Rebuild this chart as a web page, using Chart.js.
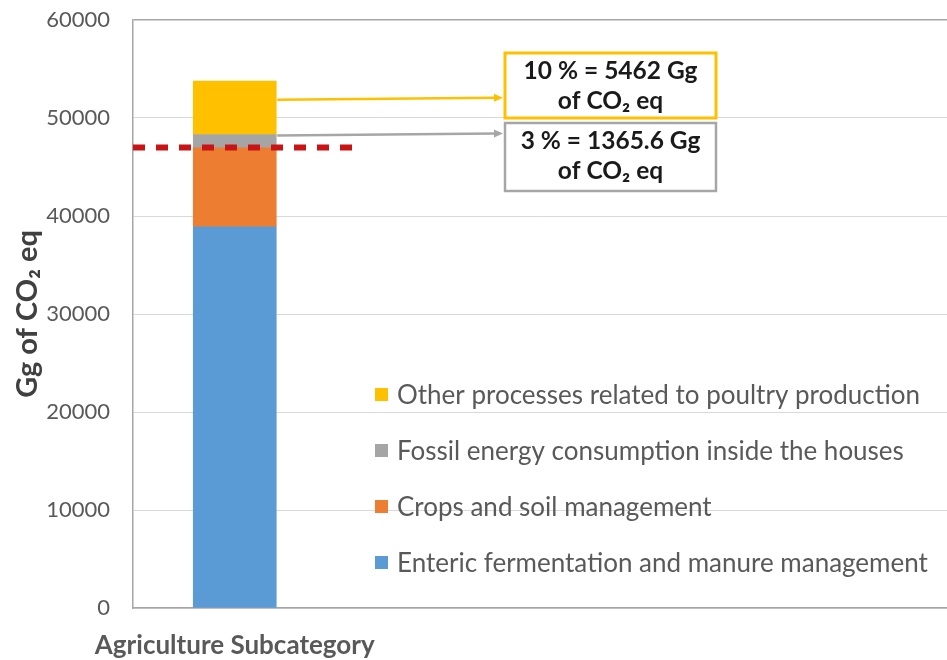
<!DOCTYPE html>
<html>
<head>
<meta charset="utf-8">
<script src="https://cdn.jsdelivr.net/npm/chart.js@4.4.1/dist/chart.umd.min.js"></script>
<style>
  html, body { margin: 0; padding: 0; background: #fff; }
  #wrap { width: 947px; height: 660px; position: relative; }
</style>
</head>
<body>
<div id="wrap"><canvas id="chart"></canvas></div>
<script>
// one category, placed near the left of a wide plot as in the original
const categories = ['Agriculture Subcategory'];
const categoryPositions = [0.125];   // position on the 0..1 horizontal scale
const seriesNames = [
    'Enteric fermentation and manure management',
    'Crops and soil management',
    'Fossil energy consumption inside the houses',
    'Other processes related to poultry production'
];
const entericValues = [38900];
const cropsValues = [8050];
const fossilValues = [1366];
const otherValues = [5462];
const seriesColors = ['#5b9bd5', '#ed7d31', '#a5a5a5', '#ffc000'];

const thresholdValue = 47000;
const thresholdSpan = [0, 0.273];   // horizontal extent of the red dashed line

const yMin = 0, yMax = 60000, yStep = 10000;

const noteLines = [
    ['10 % = 5462 Gg', 'of CO\u2082 eq'],
    ['3 % = 1365.6 Gg', 'of CO\u2082 eq']
];

const FONT = 'Lato, "Liberation Sans", sans-serif';
const GREY_TXT = '#595959';

// legend + annotation boxes + arrows
const overlay = {
    id: 'overlay',
    afterDatasetsDraw(chart) {
        const ctx = chart.ctx;
        const ca = chart.chartArea;
        ctx.save();

        // legend, listed top-down in the same order as the stack
        const lx = ca.left + 242, ly = ca.top + 376, step = 56;
        ctx.font = '26px ' + FONT;
        ctx.textBaseline = 'middle';
        ctx.textAlign = 'left';
        for (let k = 0; k < 4; k++) {
            const i = 3 - k;
            const y = ly + k * step;
            ctx.fillStyle = seriesColors[i];
            ctx.fillRect(lx, y - 8, 13, 13);
            ctx.fillStyle = GREY_TXT;
            ctx.fillText(seriesNames[i], lx + 22, y);
        }

        // annotation boxes
        const bx = ca.left + 372, bw = 211;
        const boxes = [
            { top: 53, h: 65, color: '#ffc000', lw: 3 },
            { top: 123, h: 68, color: '#a6a6a6', lw: 2.5 }
        ];
        const yellowBar = chart.getDatasetMeta(3).data[0];
        const greyBar = chart.getDatasetMeta(2).data[0];
        const barRight = yellowBar.x + yellowBar.width / 2;
        const starts = [
            yellowBar.y + 0.35 * (yellowBar.base - yellowBar.y),
            greyBar.y + 1
        ];

        boxes.forEach((b, i) => {
            ctx.fillStyle = '#fff';
            ctx.fillRect(bx, b.top, bw, b.h);
            ctx.strokeStyle = b.color;
            ctx.lineWidth = b.lw;
            ctx.strokeRect(bx, b.top, bw, b.h);

            ctx.fillStyle = '#1a1a1a';
            ctx.font = 'bold 24.5px ' + FONT;
            ctx.textAlign = 'center';
            ctx.fillText(noteLines[i][0], bx + bw / 2, b.top + 18);
            ctx.fillText(noteLines[i][1], bx + bw / 2, b.top + 48);

            // arrow
            const y0 = starts[i], y1 = y0 - 2;
            const x1 = bx - 2;
            ctx.strokeStyle = b.color;
            ctx.fillStyle = b.color;
            ctx.lineWidth = 2.5;
            ctx.beginPath();
            ctx.moveTo(barRight + 1, y0);
            ctx.lineTo(x1 - 7, y1);
            ctx.stroke();
            ctx.beginPath();
            ctx.moveTo(x1, y1);
            ctx.lineTo(x1 - 9, y1 - 4);
            ctx.lineTo(x1 - 9, y1 + 4);
            ctx.closePath();
            ctx.fill();
        });

        ctx.restore();
    }
};

const barSet = (label, values, color) => ({
    type: 'bar',
    label,
    data: values.map((v, i) => ({ x: categoryPositions[i], y: v })),
    backgroundColor: color,
    borderWidth: 0,
    stack: 'agri',
    barThickness: 83
});

new Chart(document.getElementById('chart'), {
    data: {
        datasets: [
            barSet(seriesNames[0], entericValues, seriesColors[0]),
            barSet(seriesNames[1], cropsValues, seriesColors[1]),
            barSet(seriesNames[2], fossilValues, seriesColors[2]),
            barSet(seriesNames[3], otherValues, seriesColors[3]),
            {
                type: 'line',
                label: 'threshold',
                data: thresholdSpan.map(x => ({ x, y: thresholdValue })),
                stack: 'threshold',
                borderColor: '#c81414',
                borderWidth: 6,
                borderDash: [12, 11],
                borderCapStyle: 'butt',
                pointRadius: 0,
                fill: false,
                order: -1
            }
        ]
    },
    options: {
        responsive: true,
        maintainAspectRatio: false,
        animation: false,
        layout: { padding: { left: 8, top: 20, right: 0, bottom: 0 } },
        plugins: {
            legend: { display: false },
            tooltip: { enabled: false }
        },
        scales: {
            x: {
                type: 'linear',
                min: 0,
                max: 1,
                offset: false,
                stacked: true,
                grid: { display: false, drawTicks: false, offset: false },
                border: { display: true, color: '#a6a6a6', width: 1.5 },
                afterBuildTicks: scale => {
                    scale.ticks = categoryPositions.map(v => ({ value: v }));
                },
                afterFit: scale => { scale.height = 52; },
                ticks: {
                    callback: (v, i) => categories[i],
                    color: GREY_TXT,
                    font: { family: FONT, size: 26, weight: 'bold' },
                    padding: 22,
                    maxRotation: 0,
                    minRotation: 0,
                    autoSkip: false
                }
            },
            y: {
                stacked: true,
                min: yMin,
                max: yMax,
                grid: {
                    drawTicks: false,
                    color: ctx => ctx.tick && ctx.tick.value === yMax ? '#a6a6a6' : '#d9d9d9',
                    lineWidth: ctx => ctx.tick && ctx.tick.value === yMax ? 1.5 : 1
                },
                border: { display: true, color: '#a6a6a6', width: 1.5 },
                afterFit: scale => {
                    scale.width = 125;
                    scale.paddingTop = 13;
                    scale.paddingBottom = 13;
                },
                ticks: {
                    stepSize: yStep,
                    callback: v => String(v),
                    color: GREY_TXT,
                    font: { family: FONT, size: 22 },
                    padding: 23
                },
                title: {
                    display: true,
                    text: 'Gg of CO\u2082 eq',
                    color: '#404040',
                    font: { family: FONT, size: 29, weight: 'bold' },
                    padding: { top: 2, bottom: 6 }
                }
            }
        }
    },
    plugins: [overlay]
});
</script>
</body>
</html>
